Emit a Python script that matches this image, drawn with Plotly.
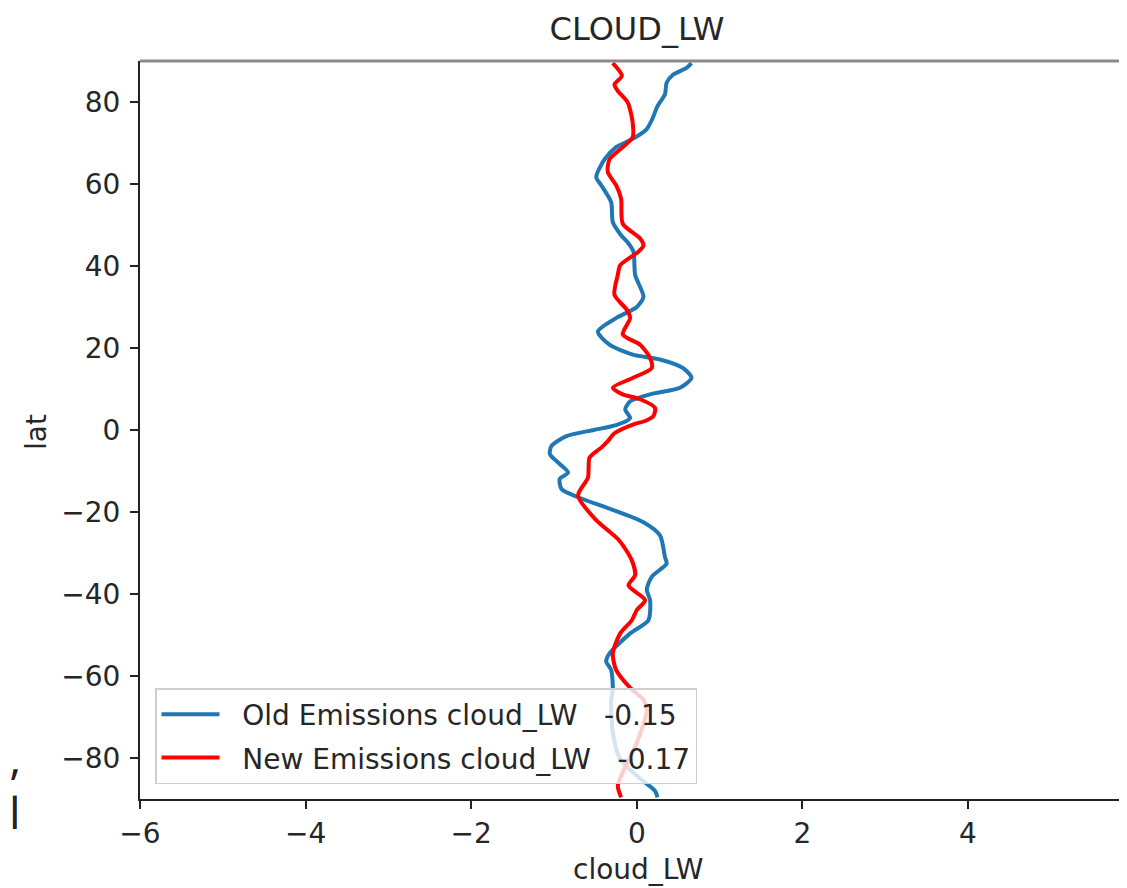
import plotly.graph_objects as go

# ---- data ----
old_lat = [89.5, 88.3, 86.7, 84.7, 81.9, 79.0, 76.0, 73.4, 71.0, 69.0, 66.0, 61.7, 59.7,
           55.6, 50.7, 47.5, 45.5, 43.5, 37.8, 32.5, 30.0, 27.3, 24.0, 20.8, 18.4, 17.2,
           15.1, 12.7, 10.3, 8.7, 7.0, 5.0, 3.0, 2.5, 1.2, 0.0, -1.5, -3.9, -5.9, -8.3,
           -10.4, -11.9, -14.4, -16.4, -19.2, -22.5, -25.7, -31.0, -32.6, -35.8, -39.0,
           -41.5, -46.4, -49.6, -54.5, -56.5, -58.5, -63.3, -65.8, -73.8, -80.3, -85.0,
           -88.0, -89.6]
old_val = [0.66, 0.60, 0.44, 0.36, 0.34, 0.25, 0.19, 0.12, -0.05, -0.25, -0.39, -0.49, -0.43,
           -0.31, -0.29, -0.19, -0.10, -0.04, -0.02, 0.08, 0.00, -0.25, -0.47, -0.33, -0.05, 0.28,
           0.56, 0.66, 0.52, 0.16, -0.08, -0.14, -0.08, -0.10, -0.25, -0.52, -0.85, -1.03, -1.05, -0.93,
           -0.83, -0.93, -0.91, -0.71, -0.33, 0.08, 0.28, 0.34, 0.36, 0.18, 0.12,
           0.16, 0.14, -0.08, -0.33, -0.37, -0.31, -0.29, -0.31, -0.29, -0.20, 0.04,
           0.22, 0.25]

new_lat = [89.5, 86.4, 84.3, 82.7, 79.9, 75.0, 71.4, 69.0, 66.0, 62.9, 59.7, 56.4, 50.3,
           46.7, 45.0, 43.5, 40.2, 37.8, 33.0, 29.3, 27.3, 23.3, 20.8, 17.6, 15.1, 12.7,
           10.3, 8.7, 7.5, 5.4, 3.4, 2.2, 1.4, -0.8, -2.7, -4.3, -6.7, -11.6, -16.0, -22.0,
           -27.0, -31.8, -35.4, -37.9, -41.5, -43.9, -46.4, -49.6, -54.5, -58.5, -62.9, -65.8,
           -68.2, -76.3, -83.5, -86.8, -89.6]
new_val = [-0.29, -0.18, -0.27, -0.23, -0.11, -0.05, -0.05, -0.17, -0.33, -0.35, -0.25, -0.19, -0.17,
           0.04, 0.08, 0.02, -0.20, -0.23, -0.27, -0.12, -0.08, -0.17, 0.04, 0.16, 0.18, -0.05,
           -0.29, -0.17, 0.04, 0.22, 0.20, 0.10, -0.04, -0.27, -0.35, -0.43, -0.57, -0.59, -0.71, -0.49,
           -0.21, -0.06, -0.02, -0.10, 0.10, 0.00, -0.06, -0.20, -0.29, -0.25, -0.08, 0.08,
           0.12, 0.00, -0.17, -0.23, -0.19]

NB = "\u00a0"
old_name = NB * 2 + "Old Emissions cloud_LW" + NB * 3 + "-0.15"
new_name = NB * 2 + "New Emissions cloud_LW" + NB * 3 + "-0.17"
title_text = "CLOUD_LW"
x_title = "cloud_LW"
y_title = "lat"
x_ticks = [-6, -4, -2, 0, 2, 4, 6]
y_ticks = [-80, -60, -40, -20, 0, 20, 40, 60, 80]

FONT = "DejaVu Sans"
TXT = "#262626"
FS = 28

# the page body adds an 8px margin; the figure is offset by it
OFF = 8
W, H = 1127 - OFF, 888 - OFF
PX0, PY0, PY1 = 140, 61, 799          # page pixels of plot-area left / top / bottom
L, T = PX0 - OFF, PY0 - OFF
B = H - (PY1 - OFF)
PW, PH = W - L, H - T - B


def px(xpage):
    return (xpage - PX0) / PW


def py(ypage):
    return (PY1 - ypage) / PH


fig = go.Figure()
fig.add_trace(go.Scatter(x=old_val, y=old_lat, mode="lines", name=old_name, legendgroup="old",
                         line=dict(color="#1f77b4", width=4, shape="spline", smoothing=0.7)))
fig.add_trace(go.Scatter(x=new_val, y=new_lat, mode="lines", name=new_name, legendgroup="new",
                         line=dict(color="#ff0000", width=4, shape="spline", smoothing=0.7)))

fig.update_layout(
    width=W, height=H,
    margin=dict(l=L, r=0, t=T, b=B, autoexpand=False),
    paper_bgcolor="white", plot_bgcolor="white",
    font=dict(family=FONT, size=FS, color=TXT),
    title=dict(text=title_text, font=dict(family=FONT, size=32, color=TXT),
               xref="paper", x=px(637), xanchor="center",
               yref="container", y=1 - (28.5 - OFF) / H, yanchor="middle", automargin=False),
    showlegend=True,
    legend=dict(x=px(155), y=py(784), xanchor="left", yanchor="bottom",
                bgcolor="rgba(255,255,255,0.8)", bordercolor="#cfcfcf", borderwidth=1.5,
                font=dict(family=FONT, size=FS, color=TXT), itemwidth=58,
                tracegroupgap=4),
)

# x range: -6 .. 6 over ~994px, cut at the right edge of the page as in the reference
fig.update_xaxes(range=[-6, 5.92], tickvals=x_ticks, showgrid=False, zeroline=False,
                 automargin=False,
                 showline=True, linecolor="#222", linewidth=2,
                 ticks="outside", ticklen=8, tickwidth=2, tickcolor="#222",
                 ticklabelstandoff=0,
                 tickfont=dict(family=FONT, size=FS, color=TXT))
fig.update_yaxes(range=[-90, 90], tickvals=y_ticks, showgrid=False, zeroline=False,
                 automargin=False,
                 showline=True, linecolor="#222", linewidth=2,
                 ticks="outside", ticklen=8, tickwidth=2, tickcolor="#222",
                 ticklabelstandoff=4,
                 tickfont=dict(family=FONT, size=FS, color=TXT))

# axis titles placed at the reference positions
fig.add_annotation(text=x_title, xref="paper", yref="paper", x=px(638), y=py(870),
                   xanchor="center", yanchor="middle", showarrow=False,
                   font=dict(family=FONT, size=FS, color=TXT))
fig.add_annotation(text=y_title, xref="paper", yref="paper", x=px(36), y=py(432),
                   xanchor="center", yanchor="middle", showarrow=False, textangle=-90,
                   font=dict(family=FONT, size=FS, color=TXT))

# top spine (appears grey and slightly thicker in the reference)
fig.add_shape(type="line", xref="paper", yref="paper", x0=0, x1=1, y0=1, y1=1,
              line=dict(color="#8a8a8a", width=3))

# cut-off fragments of surrounding text at the left edge
fig.add_annotation(text="n,", xref="paper", yref="paper", x=px(23), y=py(757),
                   xanchor="right", yanchor="middle", showarrow=False,
                   font=dict(family="Noto Sans", size=43, color="#222"))
fig.add_annotation(text="el", xref="paper", yref="paper", x=px(22), y=py(812),
                   xanchor="right", yanchor="middle", showarrow=False,
                   font=dict(family="Noto Sans", size=43, color="#222"))

fig.write_html("out.html")
